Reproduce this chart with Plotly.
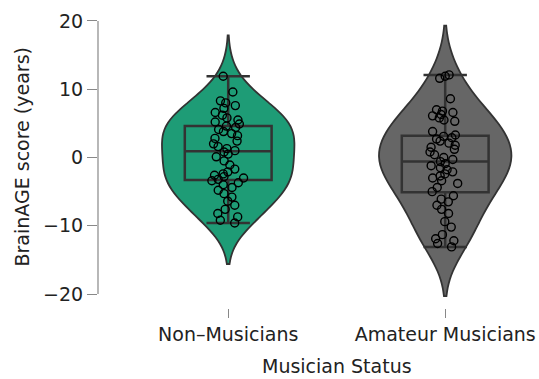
import plotly.graph_objects as go

categories = ["Non–Musicians", "Amateur Musicians"]

non_musicians = [11.9, 9.6, 8.3, 8.0, 7.6, 7.2, 6.6, 6.2, 5.8, 5.5, 5.2, 4.9, 4.6, 4.4,
                 4.1, 3.8, 3.5, 3.2, 2.8, 2.4, 2.0, 1.6, 1.3, 1.0, 0.8, 0.5, 0.1, -0.5,
                 -1.1, -1.7, -2.1, -2.4, -2.6, -2.8, -3.0, -3.2, -3.4, -3.7, -4.0, -4.4,
                 -4.8, -5.3, -5.8, -6.4, -7.0, -7.6, -8.2, -8.7, -9.2, -9.6]
amateur = [12.1, 11.9, 11.6, 8.6, 7.0, 6.8, 6.6, 6.3, 6.1, 5.8, 5.5, 5.3, 3.8, 3.3,
           3.1, 2.9, 2.7, 2.4, 2.1, 1.8, 1.5, 1.2, 0.8, 0.4, 0.0, -0.3, -0.6, -0.9,
           -1.2, -1.5, -1.8, -2.1, -2.4, -2.7, -3.0, -3.4, -3.8, -4.4, -5.0, -5.6,
           -6.1, -6.5, -7.0, -7.6, -8.2, -9.4, -10.2, -11.3, -11.9, -12.2, -12.6, -13.1]

# box statistics
q1 = [-3.3, -5.1]
median = [0.9, -0.6]
q3 = [4.6, 3.2]
lower_whisker = [-9.6, -13.1]
upper_whisker = [11.9, 12.1]

x_title = "Musician Status"
y_title = "BrainAGE score (years)"

colors = ["#1e9c76", "#666666"]
bandwidths = [3.0, 3.6]
groups = [non_musicians, amateur]

fig = go.Figure()
for i, data in enumerate(groups):
    fig.add_trace(go.Violin(
        y=data, x0=i, width=0.61, scalemode="width", bandwidth=bandwidths[i],
        spanmode="soft", points=False, fillcolor=colors[i], opacity=1,
        line=dict(color="#333333", width=1.8), box_visible=False,
        meanline_visible=False, showlegend=False, hoverinfo="skip"))
for i in range(2):
    fig.add_trace(go.Box(
        x=[i], q1=[q1[i]], median=[median[i]], q3=[q3[i]],
        lowerfence=[lower_whisker[i]], upperfence=[upper_whisker[i]],
        width=0.4, whiskerwidth=0.5, fillcolor="rgba(0,0,0,0)",
        line=dict(color="#333333", width=2.5), boxpoints=False,
        showlegend=False, hoverinfo="skip"))
for i, data in enumerate(groups):
    fig.add_trace(go.Box(
        y=data, x0=i, width=0.4, boxpoints="all", jitter=0.4, pointpos=0,
        fillcolor="rgba(0,0,0,0)", line=dict(color="rgba(0,0,0,0)", width=0),
        marker=dict(symbol="circle-open", color="black", size=8,
                    line=dict(color="black", width=1.4)),
        showlegend=False, hoverinfo="skip"))

fig.add_shape(type="line", xref="paper", yref="y", x0=0, x1=0, y0=-20, y1=20,
              line=dict(color="#888888", width=1.2))

font = dict(family="DejaVu Sans", size=19, color="#222222")
fig.add_annotation(text=x_title, xref="x", yref="paper", x=0.5, y=0,
                   xanchor="center", yanchor="middle", yshift=-58, borderpad=0,
                   showarrow=False, font=font)
fig.add_annotation(text=y_title, xref="paper", yref="y", x=0, y=0,
                   xanchor="center", yanchor="middle", xshift=-77, textangle=-90,
                   borderpad=0, showarrow=False, font=font)

fig.update_layout(
    width=539, height=379,
    margin=dict(l=98, r=7, t=10, b=71),
    paper_bgcolor="white", plot_bgcolor="white",
    boxmode="overlay", violinmode="overlay",
    font=font,
    xaxis=dict(type="linear", range=[-0.6, 1.4], tickvals=[0, 1], ticktext=categories,
               showline=False, showgrid=False, zeroline=False, ticks="outside",
               ticklen=9, tickcolor="#888888", tickwidth=1.2, automargin=False,
               tickfont=font),
    yaxis=dict(range=[-22.05, 21.61], tickvals=[-20, -10, 0, 10, 20],
               showline=False, showgrid=False, zeroline=False, ticks="outside",
               ticklen=10, tickcolor="#888888", tickwidth=1.2, automargin=False,
               tickfont=font),
)

fig.write_html("out.html", post_script="document.body.style.margin='0';",
               config={"displayModeBar": False})
